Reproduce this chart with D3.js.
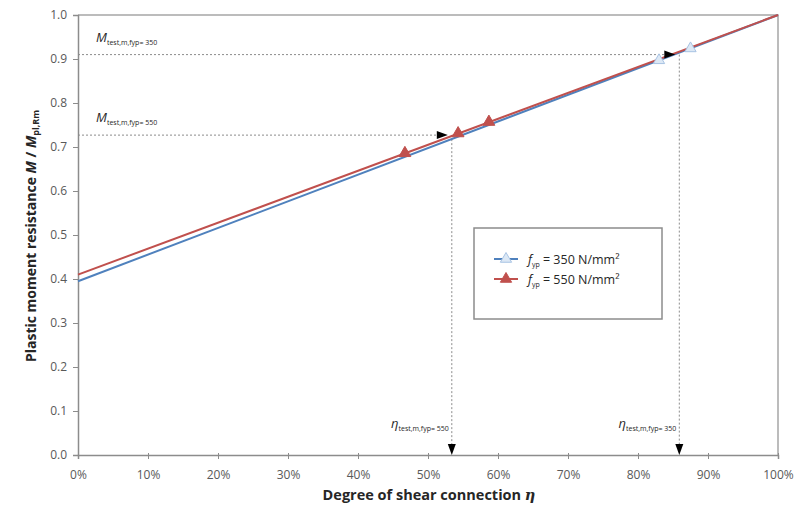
<!DOCTYPE html>
<html><head><meta charset="utf-8">
<script src="https://cdn.jsdelivr.net/npm/d3@7"></script>
<style>
body{margin:0;background:#fff;}
svg{display:block;font-family:"Open Sans","Liberation Sans",sans-serif;}
</style></head>
<body><svg id="c" width="806" height="507"></svg>
<script>
// ---- data ----
const xTicks = [0,0.1,0.2,0.3,0.4,0.5,0.6,0.7,0.8,0.9,1.0];
const yTicks = [0,0.1,0.2,0.3,0.4,0.5,0.6,0.7,0.8,0.9,1.0];
const eta350 = [0, 1];
const m350 = [0.395, 1.0];
const eta550 = [0, 1];
const m550 = [0.41, 1.0];
const pts350Eta = [0.83, 0.875];
const pts350M = [0.897, 0.924];
const pts550Eta = [0.467, 0.543, 0.587];
const pts550M = [0.686, 0.731, 0.757];
const testEta = [0.859, 0.534];   // 350, 550
const testM = [0.91, 0.727];      // 350, 550
const testNames = ["350", "550"];
const legendLabels = ["350 N/mm²", "550 N/mm²"];
const colors = {b:"#4f81bd", r:"#c0504d", bFill:"#dce8f5", bStroke:"#a8c3e3"};

const svg = d3.select("#c");
const x = d3.scaleLinear().domain([0,1]).range([78,778]);
const y = d3.scaleLinear().domain([0,1]).range([455,15]);

// frame (top & right)
svg.append("path").attr("d",`M${x(0)},${y(1)}H${x(1)}V${y(0)}`)
  .attr("fill","none").attr("stroke","#a6a6a6").attr("stroke-width",1.5);

// axes
const yAx = svg.append("g").attr("transform",`translate(${x(0)},0)`)
  .call(d3.axisLeft(y).tickValues(yTicks).tickFormat(d3.format(".1f")).tickSize(5).tickPadding(6));
const xAx = svg.append("g").attr("transform",`translate(0,${y(0)})`)
  .call(d3.axisBottom(x).tickValues(xTicks).tickFormat(d3.format(".0%")).tickSize(4).tickPadding(11));
[yAx,xAx].forEach(g=>{
  g.select(".domain").attr("stroke","#8c8c8c").attr("stroke-width",1.5);
  g.selectAll(".tick line").attr("stroke","#8c8c8c");
  g.selectAll("text").attr("fill","#595959").attr("font-size",12).attr("font-family","Open Sans, sans-serif");
});
xAx.selectAll(".tick line").attr("y1",-2);

// dotted guide lines
const dot = {stroke:"#8c8c8c","stroke-width":1,"stroke-dasharray":"2,2"};
function guide(x1,y1,x2,y2){
  const l = svg.append("line").attr("x1",x1).attr("y1",y1).attr("x2",x2).attr("y2",y2);
  Object.entries(dot).forEach(([k,v])=>l.attr(k,v));
}
testEta.forEach((e,i)=>{
  guide(x(0), y(testM[i]), x(e)-14, y(testM[i]));
  guide(x(e), y(testM[i]), x(e), y(0)-8);
});

// lines
const line = d3.line().x(d=>x(d[0])).y(d=>y(d[1]));
svg.append("path").datum(eta350.map((e,i)=>[e,m350[i]]))
  .attr("d",line).attr("fill","none").attr("stroke",colors.b).attr("stroke-width",2);
svg.append("path").datum(eta550.map((e,i)=>[e,m550[i]]))
  .attr("d",line).attr("fill","none").attr("stroke",colors.r).attr("stroke-width",2);

// markers
const tri = d3.symbol().type(d3.symbolTriangle);
svg.selectAll(".p350").data(pts350Eta).enter().append("path")
  .attr("transform",(d,i)=>`translate(${x(d)},${y(pts350M[i])})`)
  .attr("d",tri.size(55)).attr("fill",colors.bFill).attr("stroke",colors.bStroke).attr("stroke-width",1);
svg.selectAll(".p550").data(pts550Eta).enter().append("path")
  .attr("transform",(d,i)=>`translate(${x(d)},${y(pts550M[i])})`)
  .attr("d",tri.size(60)).attr("fill",colors.r).attr("stroke",colors.r);

// arrowheads
testEta.forEach((e,i)=>{
  const tx = x(e)-4, ty = y(testM[i]);
  svg.append("path").attr("d",`M${tx},${ty}L${tx-11},${ty-4}L${tx-11},${ty+4}Z`).attr("fill","#000");
  const vx = x(e), vy = y(0);
  svg.append("path").attr("d",`M${vx},${vy}L${vx-4},${vy-11}L${vx+4},${vy-11}Z`).attr("fill","#000");
});

// annotation labels
testM.forEach((m,i)=>{
  const t = svg.append("text").attr("x",96).attr("y",y(m)-13).attr("fill","#262626");
  t.append("tspan").attr("font-style","italic").attr("font-size",13).text("M");
  t.append("tspan").attr("font-size",7).attr("dy",3).text("test,m,fyp= "+testNames[i]);
});
testEta.forEach((e,i)=>{
  const t = svg.append("text").attr("x",x(e)-3).attr("y",y(0)-27).attr("text-anchor","end").attr("fill","#262626");
  t.append("tspan").attr("font-style","italic").attr("font-size",13).text("η");
  t.append("tspan").attr("font-size",7).attr("dy",3).text("test,m,fyp= "+testNames[i]);
});

// axis titles
const xt = svg.append("text").attr("x",429).attr("y",500).attr("text-anchor","middle")
  .attr("font-weight","bold").attr("font-size",14.5).attr("fill","#262626");
xt.append("tspan").text("Degree of shear connection ");
xt.append("tspan").attr("font-style","italic").attr("font-family","DejaVu Serif, serif").text("η");
const yt = svg.append("text").attr("transform","translate(36,236) rotate(-90)").attr("text-anchor","middle")
  .attr("font-weight","bold").attr("font-size",14).attr("fill","#262626");
yt.append("tspan").text("Plastic moment resistance ");
yt.append("tspan").attr("font-style","italic").text("M");
yt.append("tspan").text(" / ");
yt.append("tspan").attr("font-style","italic").text("M");
yt.append("tspan").attr("font-size",9).attr("dy",3).text("pl,Rm");

// legend
svg.append("rect").attr("x",474).attr("y",228).attr("width",188).attr("height",91)
  .attr("fill","#fff").attr("stroke","#8c8c8c").attr("stroke-width",1.5);
[[colors.b,colors.bFill,colors.bStroke],[colors.r,colors.r,colors.r]].forEach((c,i)=>{
  const ly = 259 + i*20;
  svg.append("line").attr("x1",494).attr("x2",518).attr("y1",ly).attr("y2",ly).attr("stroke",c[0]).attr("stroke-width",2);
  svg.append("path").attr("transform",`translate(506,${ly})`).attr("d",tri.size(55)).attr("fill",c[1]).attr("stroke",c[2]);
  const t = svg.append("text").attr("x",528).attr("y",ly+5).attr("font-size",12.5).attr("fill","#262626");
  t.append("tspan").attr("font-style","italic").text("f");
  t.append("tspan").attr("font-size",7).attr("dy",3).text("yp");
  t.append("tspan").attr("dy",-3).text(" = "+legendLabels[i]);
});
</script></body></html>
